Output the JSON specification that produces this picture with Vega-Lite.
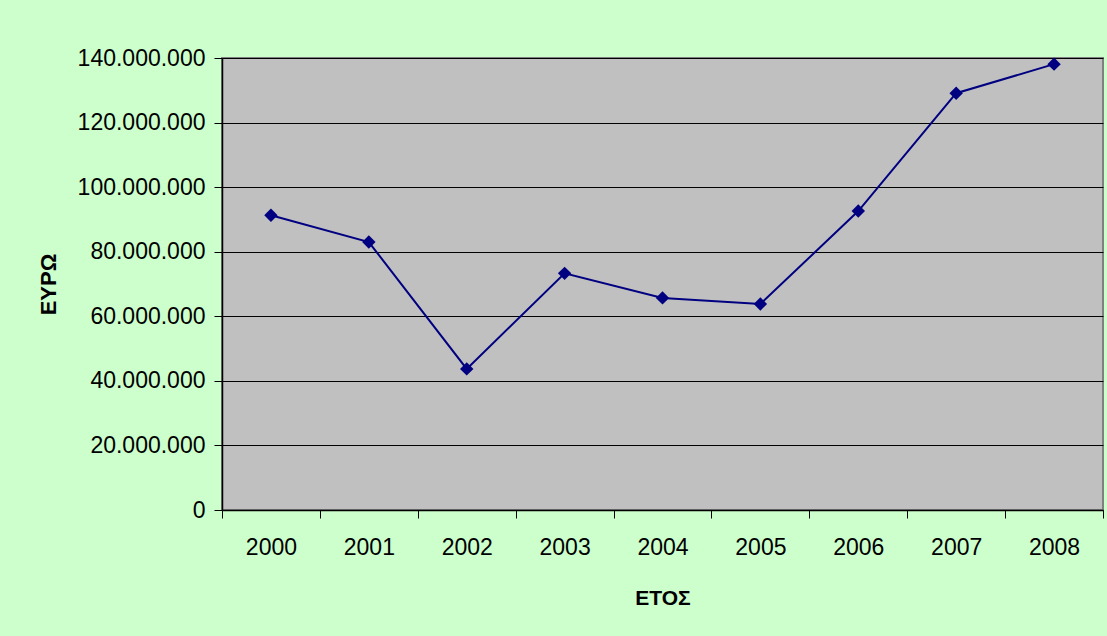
{
  "$schema": "https://vega.github.io/schema/vega-lite/v6.json",
  "width": 881,
  "height": 452,
  "autosize": {"type": "none"},
  "padding": {"left": 222, "top": 58, "right": 4, "bottom": 126},
  "background": "#CCFFCC",
  "config": {
    "locale": {"number": {"decimal": ",", "thousands": ".", "grouping": [3], "currency": ["", " €"]}},
    "font": "Liberation Sans",
    "view": {"fill": "#C0C0C0", "stroke": "#808080", "strokeWidth": 2}
  },
  "data": {
    "values": [
      {"year": "2000", "euro": 91300000},
      {"year": "2001", "euro": 83000000},
      {"year": "2002", "euro": 43700000},
      {"year": "2003", "euro": 73300000},
      {"year": "2004", "euro": 65700000},
      {"year": "2005", "euro": 63800000},
      {"year": "2006", "euro": 92600000},
      {"year": "2007", "euro": 129100000},
      {"year": "2008", "euro": 138100000}
    ]
  },
  "encoding": {
    "x": {
      "field": "year", "type": "ordinal",
      "scale": {"paddingInner": 0, "paddingOuter": 0},
      "axis": {
        "title": "ΕΤΟΣ", "titleFontSize": 21, "titleFontWeight": "bold", "titleColor": "#000",
        "titleBaseline": "middle", "titleY": 88, "titleX": 440.5,
        "labelAngle": 0, "labelFontSize": 23, "labelColor": "#000", "labelPadding": 18,
        "tickBand": "extent", "tickSize": 8, "tickColor": "#000", "domainColor": "#000", "domainWidth": 1.5,
        "grid": false
      }
    },
    "y": {
      "field": "euro", "type": "quantitative",
      "scale": {"domain": [0, 140000000]},
      "axis": {
        "title": "ΕΥΡΩ", "titleFontSize": 22, "titleFontWeight": "bold", "titleColor": "#000",
        "titleAngle": -90, "titleBaseline": "middle", "titleAlign": "center", "titleX": -174, "titleY": 226,
        "values": [0, 20000000, 40000000, 60000000, 80000000, 100000000, 120000000, 140000000],
        "format": ",d", "labelFontSize": 23, "labelColor": "#000", "labelPadding": 9,
        "tickSize": 8, "tickColor": "#000", "domainColor": "#000", "domainWidth": 1.5,
        "grid": true, "gridColor": "#000", "gridWidth": 1, "gridOpacity": 1
      }
    }
  },
  "layer": [
    {"mark": {"type": "line", "color": "#000080", "strokeWidth": 2}},
    {"mark": {"type": "point", "shape": "diamond", "filled": true, "color": "#000080", "size": 180, "opacity": 1}}
  ]
}
